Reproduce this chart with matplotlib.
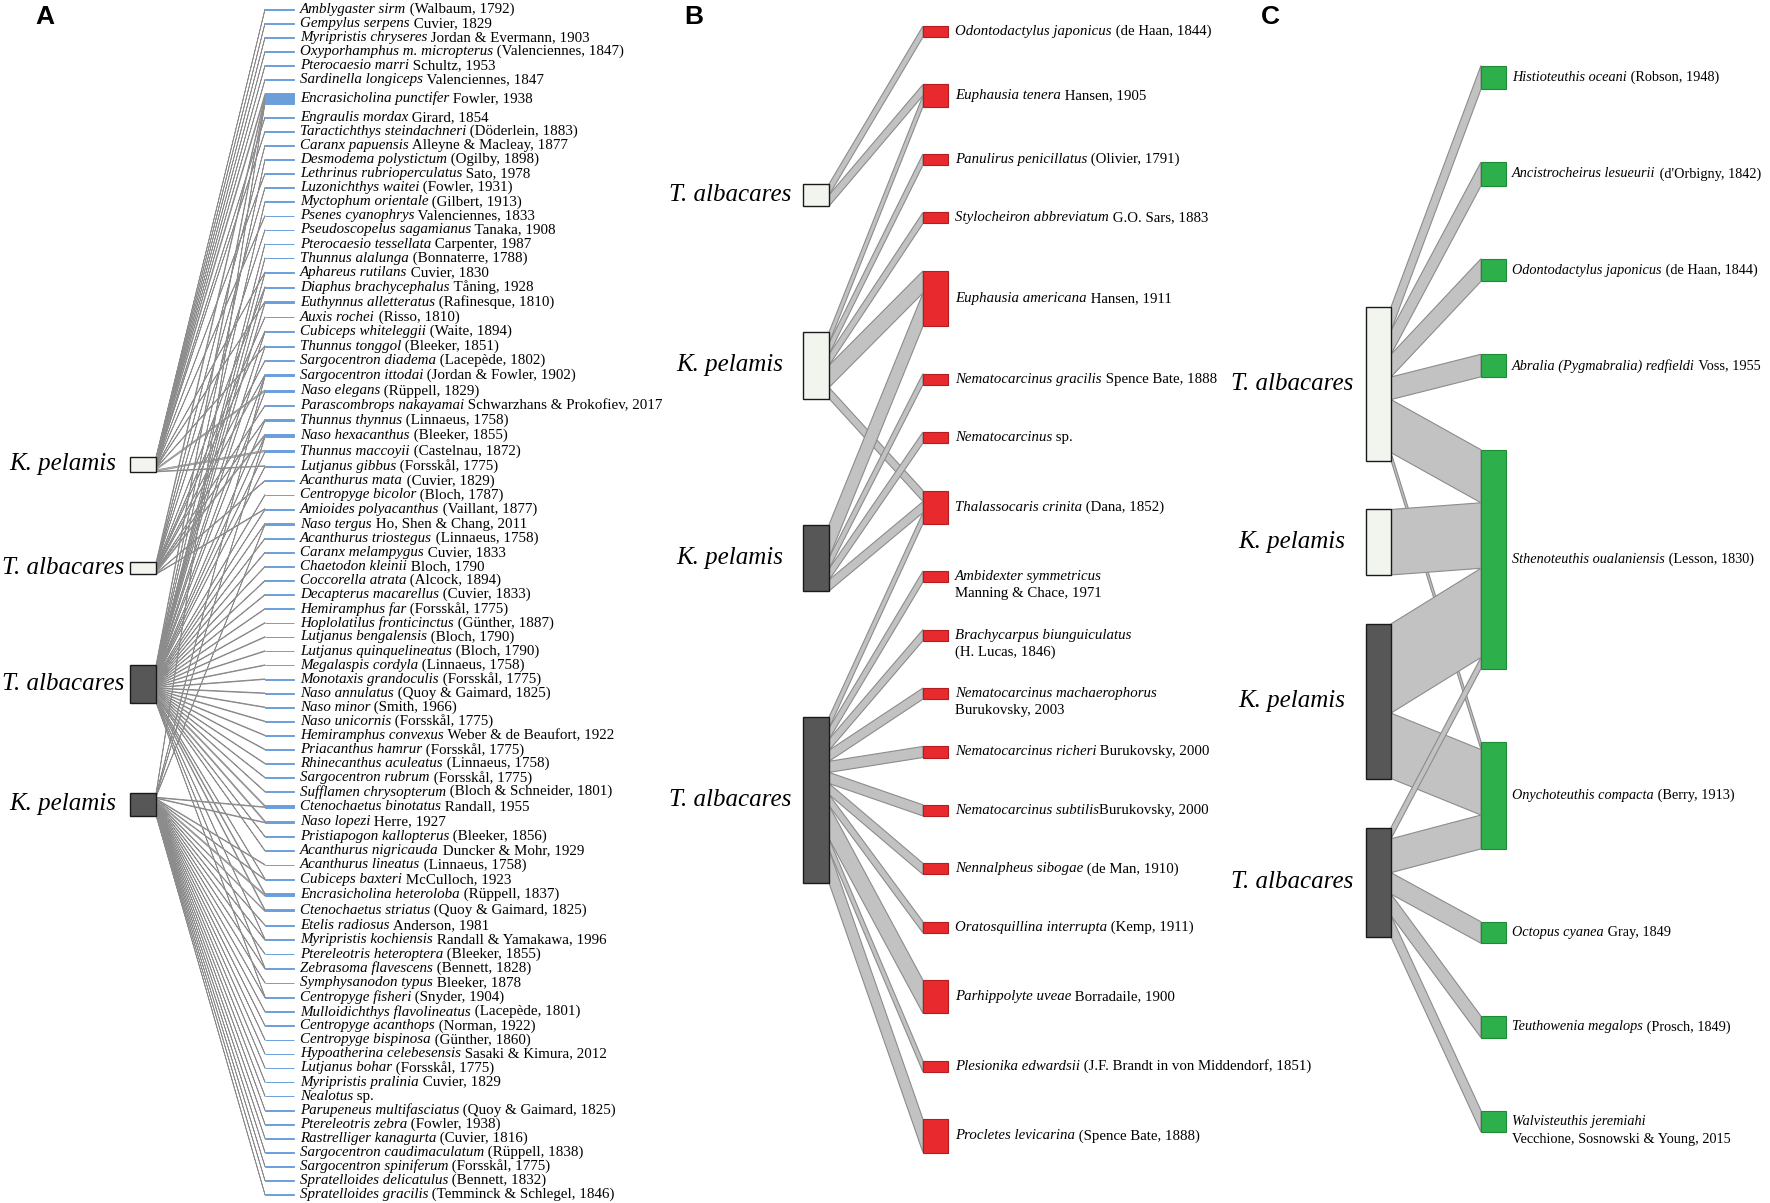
import matplotlib
matplotlib.use("Agg")
import matplotlib.pyplot as plt
from matplotlib.patches import Rectangle, Polygon

plt.rcParams["font.family"] = ["Liberation Serif", "DejaVu Serif"]

W, H = 1770, 1203

# ---------------- data ----------------
pred_names = ["K. pelamis", "T. albacares", "T. albacares", "K. pelamis"]
pred_fill = ["#f1f5ee", "#f1f5ee", "#575757", "#575757"]

fish = [
    ("Amblygaster sirm", " (Walbaum, 1792)"),
    ("Gempylus serpens", " Cuvier, 1829"),
    ("Myripristis chryseres", " Jordan & Evermann, 1903"),
    ("Oxyporhamphus m. micropterus", " (Valenciennes, 1847)"),
    ("Pterocaesio marri", " Schultz, 1953"),
    ("Sardinella longiceps", " Valenciennes, 1847"),
    ("Encrasicholina punctifer", " Fowler, 1938"),
    ("Engraulis mordax", " Girard, 1854"),
    ("Taractichthys steindachneri", " (Döderlein, 1883)"),
    ("Caranx papuensis", " Alleyne & Macleay, 1877"),
    ("Desmodema polystictum", " (Ogilby, 1898)"),
    ("Lethrinus rubrioperculatus", " Sato, 1978"),
    ("Luzonichthys waitei", " (Fowler, 1931)"),
    ("Myctophum orientale", " (Gilbert, 1913)"),
    ("Psenes cyanophrys", " Valenciennes, 1833"),
    ("Pseudoscopelus sagamianus", " Tanaka, 1908"),
    ("Pterocaesio tessellata", " Carpenter, 1987"),
    ("Thunnus alalunga", " (Bonnaterre, 1788)"),
    ("Aphareus rutilans", " Cuvier, 1830"),
    ("Diaphus brachycephalus", " Tåning, 1928"),
    ("Euthynnus alletteratus", " (Rafinesque, 1810)"),
    ("Auxis rochei", " (Risso, 1810)"),
    ("Cubiceps whiteleggii", " (Waite, 1894)"),
    ("Thunnus tonggol", " (Bleeker, 1851)"),
    ("Sargocentron diadema", " (Lacepède, 1802)"),
    ("Sargocentron ittodai", " (Jordan & Fowler, 1902)"),
    ("Naso elegans", " (Rüppell, 1829)"),
    ("Parascombrops nakayamai", " Schwarzhans & Prokofiev, 2017"),
    ("Thunnus thynnus", " (Linnaeus, 1758)"),
    ("Naso hexacanthus", " (Bleeker, 1855)"),
    ("Thunnus maccoyii", " (Castelnau, 1872)"),
    ("Lutjanus gibbus", " (Forsskål, 1775)"),
    ("Acanthurus mata", " (Cuvier, 1829)"),
    ("Centropyge bicolor", " (Bloch, 1787)"),
    ("Amioides polyacanthus", " (Vaillant, 1877)"),
    ("Naso tergus", " Ho, Shen & Chang, 2011"),
    ("Acanthurus triostegus", " (Linnaeus, 1758)"),
    ("Caranx melampygus", " Cuvier, 1833"),
    ("Chaetodon kleinii", " Bloch, 1790"),
    ("Coccorella atrata", " (Alcock, 1894)"),
    ("Decapterus macarellus", " (Cuvier, 1833)"),
    ("Hemiramphus far", " (Forsskål, 1775)"),
    ("Hoplolatilus fronticinctus", " (Günther, 1887)"),
    ("Lutjanus bengalensis", " (Bloch, 1790)"),
    ("Lutjanus quinquelineatus", " (Bloch, 1790)"),
    ("Megalaspis cordyla", " (Linnaeus, 1758)"),
    ("Monotaxis grandoculis", " (Forsskål, 1775)"),
    ("Naso annulatus", " (Quoy & Gaimard, 1825)"),
    ("Naso minor", " (Smith, 1966)"),
    ("Naso unicornis", " (Forsskål, 1775)"),
    ("Hemiramphus convexus", " Weber & de Beaufort, 1922"),
    ("Priacanthus hamrur", " (Forsskål, 1775)"),
    ("Rhinecanthus aculeatus", " (Linnaeus, 1758)"),
    ("Sargocentron rubrum", " (Forsskål, 1775)"),
    ("Sufflamen chrysopterum", " (Bloch & Schneider, 1801)"),
    ("Ctenochaetus binotatus", " Randall, 1955"),
    ("Naso lopezi", " Herre, 1927"),
    ("Pristiapogon kallopterus", " (Bleeker, 1856)"),
    ("Acanthurus nigricauda", " Duncker & Mohr, 1929"),
    ("Acanthurus lineatus", " (Linnaeus, 1758)"),
    ("Cubiceps baxteri", " McCulloch, 1923"),
    ("Encrasicholina heteroloba", " (Rüppell, 1837)"),
    ("Ctenochaetus striatus", " (Quoy & Gaimard, 1825)"),
    ("Etelis radiosus", " Anderson, 1981"),
    ("Myripristis kochiensis", " Randall & Yamakawa, 1996"),
    ("Ptereleotris heteroptera", " (Bleeker, 1855)"),
    ("Zebrasoma flavescens", " (Bennett, 1828)"),
    ("Symphysanodon typus", " Bleeker, 1878"),
    ("Centropyge fisheri", " (Snyder, 1904)"),
    ("Mulloidichthys flavolineatus", " (Lacepède, 1801)"),
    ("Centropyge acanthops", " (Norman, 1922)"),
    ("Centropyge bispinosa", " (Günther, 1860)"),
    ("Hypoatherina celebesensis", " Sasaki & Kimura, 2012"),
    ("Lutjanus bohar", " (Forsskål, 1775)"),
    ("Myripristis pralinia", " Cuvier, 1829"),
    ("Nealotus", " sp."),
    ("Parupeneus multifasciatus", " (Quoy & Gaimard, 1825)"),
    ("Ptereleotris zebra", " (Fowler, 1938)"),
    ("Rastrelliger kanagurta", " (Cuvier, 1816)"),
    ("Sargocentron caudimaculatum", " (Rüppell, 1838)"),
    ("Sargocentron spiniferum", " (Forsskål, 1775)"),
    ("Spratelloides delicatulus", " (Bennett, 1832)"),
    ("Spratelloides gracilis", " (Temminck & Schlegel, 1846)"),
]

# fish links per predator: prey number (1-based, list order) and weight
kp_white_prey = [1, 2, 3, 4, 5, 6, 7, 8, 9, 12, 15, 19, 21, 24, 27, 31, 32]
kp_white_w    = [1, 1, 1, 1, 1, 1, 4, 1, 1, 1, 1, 1, 1, 1, 2, 2, 1]
ta_white_prey = [7, 10, 13, 16, 20, 22, 23, 25, 26, 28, 29, 30, 33, 35]
ta_white_w    = [4, 1, 1, 1, 1, 1, 1, 1, 1, 1, 1, 2, 1, 1]
ta_dark_prey = [7, 11, 14, 17, 18, 19, 20, 21, 23, 24, 26, 27, 29, 30, 31, 32,
                34, 35, 36, 37, 38, 39, 40, 41, 42, 43, 44, 45, 46, 47, 48, 49,
                50, 51, 52, 53, 54, 55, 56, 57, 58, 59, 61, 62, 63, 65, 67, 69]
ta_dark_w    = [4, 1, 1, 1, 1, 1, 1, 2, 1, 1, 1, 1, 1, 1, 1, 1,
                1, 1, 1, 1, 1, 1, 1, 1, 1, 1, 1, 1, 1, 1, 1, 1,
                1, 1, 1, 1, 1, 1, 2, 2, 1, 1, 1, 2, 2, 1, 1, 1]
kp_dark_prey = [7, 26, 30, 36, 56, 57, 60, 61, 62, 63, 64, 65, 66, 67, 68, 69,
                70, 71, 72, 73, 74, 75, 76, 77, 78, 79, 80, 81, 82, 83]
kp_dark_w    = [3, 1, 1, 1, 1, 1, 1, 1, 2, 1, 1, 1, 1, 1, 1, 1,
                1, 1, 1, 1, 1, 1, 1, 1, 1, 1, 1, 1, 1, 1]

# panel B: crustaceans
b_pred_names = ["T. albacares", "K. pelamis", "K. pelamis", "T. albacares"]
crust = [
    ("Odontodactylus japonicus", " (de Haan, 1844)"),
    ("Euphausia tenera", " Hansen, 1905"),
    ("Panulirus penicillatus", " (Olivier, 1791)"),
    ("Stylocheiron abbreviatum", " G.O. Sars, 1883"),
    ("Euphausia americana", " Hansen, 1911"),
    ("Nematocarcinus gracilis", " Spence Bate, 1888"),
    ("Nematocarcinus", " sp."),
    ("Thalassocaris crinita", " (Dana, 1852)"),
    ("Ambidexter symmetricus", "\nManning & Chace, 1971"),
    ("Brachycarpus biunguiculatus", "\n(H. Lucas, 1846)"),
    ("Nematocarcinus machaerophorus", "\nBurukovsky, 2003"),
    ("Nematocarcinus richeri", " Burukovsky, 2000"),
    ("Nematocarcinus subtilis", "Burukovsky, 2000"),
    ("Nennalpheus sibogae", " (de Man, 1910)"),
    ("Oratosquillina interrupta", " (Kemp, 1911)"),
    ("Parhippolyte uveae", " Borradaile, 1900"),
    ("Plesionika edwardsii", " (J.F. Brandt in von Middendorf, 1851)"),
    ("Procletes levicarina", " (Spence Bate, 1888)"),
]
b_src = [0, 0, 1, 1, 1, 1, 1, 2, 2, 2, 2, 3, 3, 3, 3, 3, 3, 3, 3, 3, 3, 3]
b_dst = [0, 1, 1, 2, 3, 4, 7, 4, 5, 6, 7, 7, 8, 9, 10, 11, 12, 13, 14, 15, 16, 17]
b_w   = [1, 1, 1, 1, 1, 2, 1, 3, 1, 1, 1, 1, 1, 1, 1, 1, 1, 1, 1, 3, 1, 3]

# panel C: cephalopods
c_pred_names = ["T. albacares", "K. pelamis", "K. pelamis", "T. albacares"]
ceph = [
    ("Histioteuthis oceani", " (Robson, 1948)"),
    ("Ancistrocheirus lesueurii", " (d'Orbigny, 1842)"),
    ("Odontodactylus japonicus", " (de Haan, 1844)"),
    ("Abralia (Pygmabralia) redfieldi", " Voss, 1955"),
    ("Sthenoteuthis oualaniensis", " (Lesson, 1830)"),
    ("Onychoteuthis compacta", " (Berry, 1913)"),
    ("Octopus cyanea", " Gray, 1849"),
    ("Teuthowenia megalops", " (Prosch, 1849)"),
    ("Walvisteuthis jeremiahi", "\nVecchione, Sosnowski & Young, 2015"),
]
c_src = [0, 0, 0, 0, 0, 0, 1, 2, 2, 3, 3, 3, 3, 3]
c_dst = [0, 1, 2, 3, 4, 5, 4, 4, 5, 4, 5, 6, 7, 8]
c_w   = [21, 21, 20, 20, 47, 7, 58, 79, 58, 10, 30, 19, 19, 19]

LINK_FILL = "#c2c2c2"
LINK_EDGE = "#8c8c8c"

fig = plt.figure(figsize=(W / 100, H / 100), dpi=100)
ax = fig.add_axes([0, 0, 1, 1])
ax.set_xlim(0, W)
ax.set_ylim(H, 0)
ax.axis("off")


def stack(tot, y0, y1, u):
    gap = (y1 - y0 - u * sum(tot)) / (len(tot) - 1)
    tops, y = [], y0
    for t in tot:
        tops.append(y)
        y += t * u + gap
    return tops


def panel(names, fills, prey, links, lay):
    u = lay["unit"]
    out_w = [0] * len(names)
    in_w = [0] * len(prey)
    for p, q, w in links:
        out_w[p] += w
        in_w[q] += w
    ptop = stack(out_w, *lay["pred_y"], u)
    qtop = stack(in_w, *lay["prey_y"], u)
    px, pw = lay["pred_x"]
    qx, qw = lay["prey_x"]

    # stack the bands on both ends, ordered by the node at the other end
    s_off, t_off = ptop[:], qtop[:]
    src, tgt = {}, {}
    for p, q, w in sorted(links, key=lambda l: (l[0], l[1])):
        src[(p, q)] = s_off[p]
        s_off[p] += w * u
    for p, q, w in sorted(links, key=lambda l: (l[1], l[0])):
        tgt[(p, q)] = t_off[q]
        t_off[q] += w * u
    for p, q, w in links:
        y0, y1, h = src[(p, q)], tgt[(p, q)], w * u
        ax.add_patch(Polygon([(px + pw, y0), (qx, y1), (qx, y1 + h), (px + pw, y0 + h)],
                             closed=True, fc=LINK_FILL, ec=LINK_EDGE,
                             lw=lay["link_lw"], zorder=1))

    for i, nm in enumerate(names):
        h = out_w[i] * u
        ax.add_patch(Rectangle((px, ptop[i]), pw, h, fc=fills[i], ec="#1a1a1a",
                               lw=1.0, zorder=3))
        ax.text(lay["pred_lab_x"], ptop[i] + h / 2, nm, ha="center", va="center",
                style="italic", fontsize=18)

    for j, (it, rest) in enumerate(prey):
        h = in_w[j] * u
        ax.add_patch(Rectangle((qx, qtop[j]), qw, h, fc=lay["prey_fc"], ec=lay["prey_ec"],
                               lw=lay["prey_lw"], zorder=3))
        yc = qtop[j] + h / 2
        tx = qx + qw + lay["prey_dx"]
        t = ax.text(tx, yc, it, ha="left", va="center", style="italic",
                    fontsize=lay["fs"])
        if rest.startswith("\n"):
            ax.text(tx, yc + lay["line_dy"], rest[1:], ha="left", va="center",
                    fontsize=lay["fs"])
        else:
            ax.annotate(rest, xy=(1, 0.5), xycoords=t, ha="left", va="center",
                        fontsize=lay["fs"])


# panel A
a_links = []
for p, (qs, ws) in enumerate([(kp_white_prey, kp_white_w), (ta_white_prey, ta_white_w),
                              (ta_dark_prey, ta_dark_w), (kp_dark_prey, kp_dark_w)]):
    for q, w in zip(qs, ws):
        a_links.append((p, q - 1, w))
panel(pred_names, pred_fill, fish, a_links,
      dict(unit=0.68, pred_y=(457, 815.5), prey_y=(9, 1195), pred_x=(130, 26),
           prey_x=(265, 29), pred_lab_x=63, prey_dx=6, link_lw=0.55,
           prey_fc="#6b9fdc", prey_ec="#6b9fdc", prey_lw=0.7, fs=10.8, line_dy=16))

# panel B
panel(b_pred_names, pred_fill, crust, list(zip(b_src, b_dst, b_w)),
      dict(unit=11.06, pred_y=(184, 883), prey_y=(26, 1152.5), pred_x=(803, 26),
           prey_x=(923, 25), pred_lab_x=730, prey_dx=7, link_lw=0.8,
           prey_fc="#e8292d", prey_ec="#b31d20", prey_lw=0.8, fs=10.7, line_dy=17))

# panel C
panel(c_pred_names, pred_fill, ceph, list(zip(c_src, c_dst, c_w)),
      dict(unit=1.1288, pred_y=(307, 937), prey_y=(65.5, 1132), pred_x=(1366, 25),
           prey_x=(1481, 25), pred_lab_x=1292, prey_dx=6, link_lw=0.8,
           prey_fc="#2db04b", prey_ec="#1d8a36", prey_lw=0.8, fs=10.3, line_dy=18))

for lbl, x in [("A", 45), ("B", 694), ("C", 1270)]:
    ax.text(x, 17, lbl, ha="center", va="center", fontsize=19, fontweight="bold",
            family="Liberation Sans")

fig.savefig("out.png", dpi=100)
